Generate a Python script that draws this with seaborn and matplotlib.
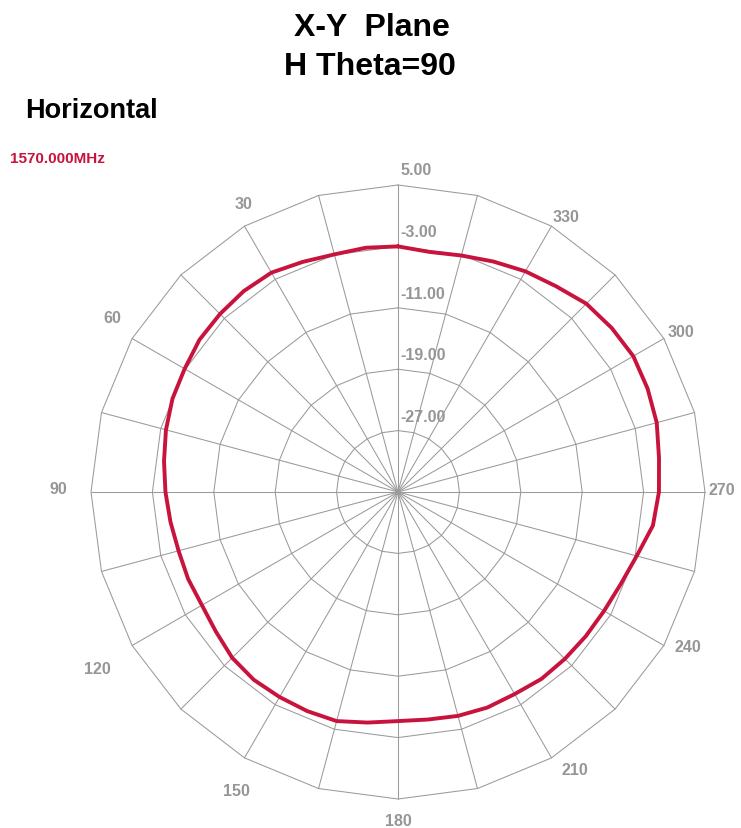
import numpy as np
import pandas as pd
import matplotlib
matplotlib.use("Agg")
import matplotlib.pyplot as plt
import seaborn as sns

# ---------------- data ----------------
angles_deg = [0, 7.5, 15, 22.5, 30, 37.5, 45, 52.5, 60, 67.5, 75, 82.5,
              90, 97.5, 105, 112.5, 120, 127.5, 135, 142.5, 150, 157.5, 165, 172.5,
              180, 187.5, 195, 202.5, 210, 217.5, 225, 232.5, 240, 247.5, 255, 262.5,
              270, 277.5, 285, 292.5, 300, 307.5, 315, 322.5, 330, 337.5, 345, 352.5]
gain_db = [-3.0, -2.9, -2.95, -2.55, -2.0, -2.0, -2.2, -2.4, -2.9, -3.2, -3.7, -4.25,
           -4.7, -5.1, -5.4, -5.4, -5.5, -5.1, -4.45, -4.15, -4.15, -4.1, -4.1, -4.7,
           -5.15, -5.1, -4.8, -4.6, -4.6, -4.3, -4.25, -4.15, -4.0, -3.6, -2.8, -1.5,
           -1.0, -0.7, -0.1, 0.2, 0.4, 0.1, -0.3, -1.2, -1.8, -2.5, -3.1, -3.45]
ring_db = [5.0, -3.0, -11.0, -19.0, -27.0]
ring_labels = ["5.00", "-3.00", "-11.00", "-19.00", "-27.00"]
angle_ticks = [0, 30, 60, 90, 120, 150, 180, 210, 240, 270, 300, 330]
angle_labels = ["5.00", "30", "60", "90", "120", "150", "180", "210", "240", "270", "300", "330"]
series_name = "1570.000MHz"
db_min = -35.0

# ---------------- style ----------------
W, H = 741, 829
CX, CY = 398, 493          # centre in pixels
SCALE = 7.675              # pixels per dB
curve_color = "#C8143C"
grid_color = "#9A9A9A"
label_color = "#969696"

sns.set_style("white")
plt.rcParams["font.family"] = ["Liberation Sans", "DejaVu Sans"]

fig = plt.figure(figsize=(W / 100, H / 100), dpi=100)
ax = fig.add_axes([0, 0, 1, 1])
ax.set_xlim(-CX / SCALE, (W - CX) / SCALE)
ax.set_ylim(-(H - CY) / SCALE, CY / SCALE)
ax.set_aspect("equal")
ax.axis("off")

def to_xy(theta_deg, r):
    t = np.deg2rad(np.asarray(theta_deg, dtype=float))
    r = np.asarray(r, dtype=float)
    return -r * np.sin(t), r * np.cos(t)

# polygonal rings (24 sides)
spoke_angles = np.arange(0, 361, 15)
for db in ring_db:
    r = db - db_min
    x, y = to_xy(spoke_angles, np.full(spoke_angles.shape, r))
    ax.plot(x, y, color=grid_color, lw=0.75, zorder=1)

# spokes
r_outer = ring_db[0] - db_min
for a in spoke_angles[:-1]:
    x, y = to_xy([a, a], [0, r_outer])
    ax.plot(x, y, color=grid_color, lw=0.75, zorder=1)

# ring labels
for db, lab in zip(ring_db[1:], ring_labels[1:]):
    r = db - db_min
    ax.text(0.35, r + 1.9, lab, color=label_color, fontsize=11.5,
            fontweight="bold", ha="left", va="center", zorder=3)

# angle labels (offsets in pixels from outer vertex)
offsets = {0: (18, 16), 30: (-1, 23), 60: (-20, 21), 90: (-33, 3),
           120: (-35, -23), 150: (-8, -33), 180: (0, -22), 210: (23, -12),
           240: (24, -1), 270: (17, 3), 300: (17, 7), 330: (15, 10)}
for a, lab in zip(angle_ticks, angle_labels):
    x, y = to_xy([a], [r_outer])
    ax.annotate(lab, (x[0], y[0]), xytext=offsets[a], textcoords="offset pixels",
                color=label_color, fontsize=11.5, fontweight="bold",
                ha="center", va="center", zorder=3)

# curve
th = list(angles_deg) + [angles_deg[0]]
gd = list(gain_db) + [gain_db[0]]
cx, cy = to_xy(th, np.array(gd) - db_min)
df = pd.DataFrame({"x": cx, "y": cy})
sns.lineplot(data=df, x="x", y="y", sort=False, estimator=None,
             color=curve_color, lw=2.8, ax=ax, zorder=4)
ax.set_xlabel("")
ax.set_ylabel("")

# texts
fig.text(372 / W, 1 - 28 / H, "X-Y  Plane", ha="center", va="center",
         fontsize=23, fontweight="bold", color="black")
fig.text(370 / W, 1 - 67 / H, "H Theta=90", ha="center", va="center",
         fontsize=23, fontweight="bold", color="black")
fig.text(25 / W, 1 - 111 / H, "Horizontal", ha="left", va="center",
         fontsize=19.5, fontweight="bold", color="black")
fig.text(10 / W, 1 - 159 / H, series_name, ha="left", va="center",
         fontsize=11, fontweight="bold", color=curve_color)

fig.savefig("out.png", dpi=100)
